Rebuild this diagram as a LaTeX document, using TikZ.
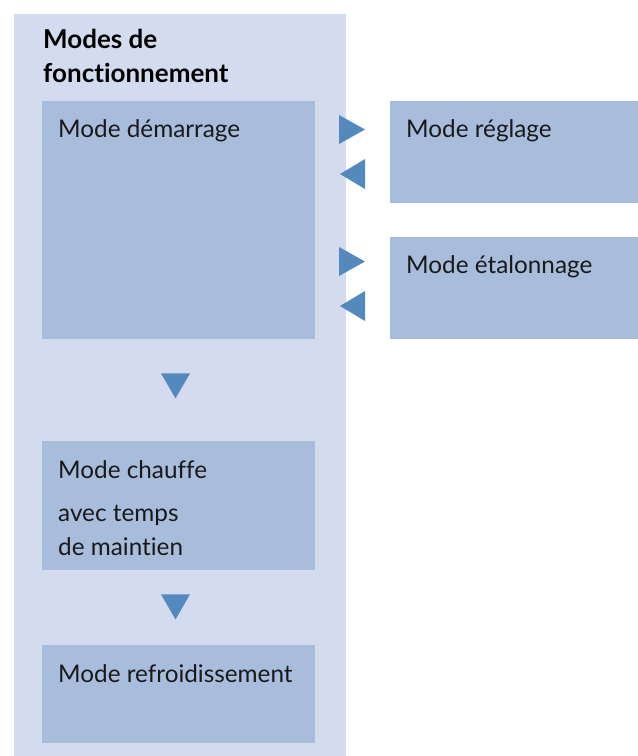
\documentclass[tikz,border=0pt]{standalone}
\usepackage{fontspec}
\setmainfont{Lato}[Ligatures=NoCommon]
\usetikzlibrary{calc}
\usetikzlibrary{positioning}

\definecolor{bgblue}{RGB}{211,220,238}
\definecolor{boxblue}{RGB}{168,189,220}
\definecolor{triblue}{RGB}{84,137,190}
\definecolor{txtgray}{RGB}{25,25,25}

\tikzset{
 modebox/.style={fill=boxblue, anchor=north west, inner sep=0, minimum width=273pt},
 modetxt/.style={anchor=base west, inner sep=0, text=txtgray, font=\fontsize{24.3}{29}\selectfont},
 titletxt/.style={anchor=base west, inner sep=0, text=black, font=\fontsize{26}{31}\selectfont\bfseries},
 tri/.style={fill=triblue},
}

\begin{document}
\begin{tikzpicture}[x=1pt,y=-1pt]
\useasboundingbox (0,0) rectangle (638,756);
\fill[bgblue] (14,14) rectangle (346,756);
\node[titletxt] (title1) at (43,48) {Modes de};
\node[titletxt] (title2) at (43,82) {fonctionnement};

\node[modebox, minimum height=238pt] (dem) at (42,101) {};
\node[modebox, minimum width=248pt, minimum height=102pt] (reg) at (390,101) {};
\node[modebox, minimum width=248pt, minimum height=102pt] (eta) at (390,237) {};
\node[modebox, minimum height=129pt] (chf) at (42,441) {};
\node[modebox, minimum height=98pt] (ref) at (42,645) {};

\node[modetxt] (demtxt) at ($(dem.north west)+(16,36)$) {Mode démarrage};
\node[modetxt] (regtxt) at ($(reg.north west)+(16,36)$) {Mode réglage};
\node[modetxt] (etatxt) at ($(eta.north west)+(16,36)$) {Mode étalonnage};
\node[modetxt] (chftxt) at ($(chf.north west)+(16,37)$) {Mode chauffe};
\node[modetxt] (chfsub1) at ($(chf.north west)+(16,80)$) {avec temps};
\node[modetxt] (chfsub2) at ($(chf.north west)+(16,114)$) {de maintien};
\node[modetxt] (reftxt) at ($(ref.north west)+(16,37)$) {Mode refroidissement};

\fill[tri] ($(reg.north west)+(-51,14)$) --++(26,14.5) --++(-26,14.5) -- cycle;
\fill[tri] ($(reg.north west)+(-25,58)$) --++(-25,15) --++(25,15) -- cycle;
\fill[tri] ($(eta.north west)+(-51,10)$) --++(26,14.5) --++(-26,14.5) -- cycle;
\fill[tri] ($(eta.north west)+(-25,54)$) --++(-25,15) --++(25,15) -- cycle;
\fill[tri] ($(dem.south west)+(119,34)$) --++(29,0) --++(-14.5,25) -- cycle;
\fill[tri] ($(chf.south west)+(119,24)$) --++(29,0) --++(-14.5,25) -- cycle;
\end{tikzpicture}
\end{document}
